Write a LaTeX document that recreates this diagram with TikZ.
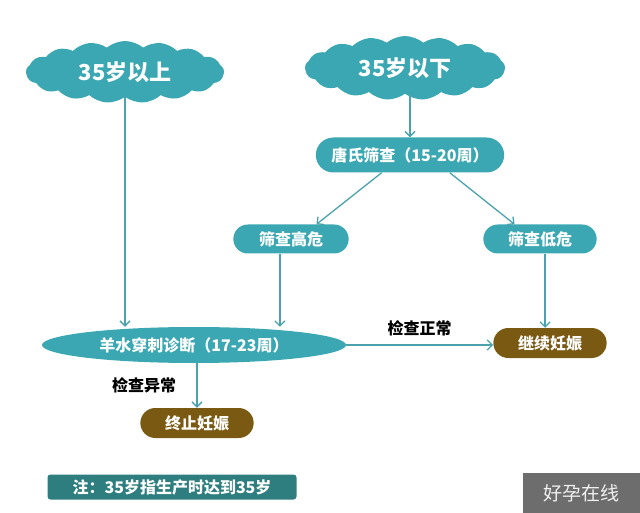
\documentclass[tikz,border=0pt]{standalone}
\usepackage{fontspec}
\setmainfont{Noto Sans CJK SC}
\usetikzlibrary{positioning,arrows.meta,shapes.symbols,shapes.misc,shapes.geometric}

\definecolor{cyanfill}{HTML}{3BA7B2}
\definecolor{linecol}{HTML}{4BA2AD}
\definecolor{brownfill}{HTML}{7A5A12}
\definecolor{notefill}{HTML}{2E7E80}
\definecolor{markfill}{HTML}{6D6D6D}

\begin{document}
\begin{tikzpicture}[
  x=1pt,y=-1pt,
  agecloud/.style={cloud,cloud puffs=17,cloud puff arc=80,cloud ignores aspect,fill=cyanfill,text=white,
    minimum width=198pt,minimum height=62pt,inner sep=0pt,font=\bfseries\fontsize{22}{22}\selectfont},
  oval/.style={ellipse,fill=cyanfill,text=white,inner xsep=-40pt,inner ysep=0pt,minimum height=36pt,
    font=\bfseries\fontsize{16}{16}\selectfont},
  pill/.style={rounded rectangle,fill=cyanfill,text=white,minimum height=29pt,
    font=\bfseries\fontsize{16}{16}\selectfont},
  endbox/.style={pill,fill=brownfill,minimum width=120pt,minimum height=30pt},
  lbl/.style={text=black,font=\bfseries\fontsize{16}{16}\selectfont},
  arr/.style={-{Straight Barb[length=5pt,width=10pt]},linecol,line width=1.3pt}
]
\useasboundingbox (0,0) rectangle (640,513);

\node[agecloud] (above35) at (125,72) {35岁以上};
\node[agecloud,minimum width=200pt,minimum height=64pt] (below35) at (405,68) {35岁以下};
\node[pill,minimum width=195pt,minimum height=35pt] (tang) at (410,155) {唐氏筛查（15-20周）};

\node[pill,minimum width=122pt] (highrisk) at (291,239) {筛查高危};
\node[pill,minimum width=120pt] (lowrisk) at (540,239) {筛查低危};

\node[oval,minimum width=304pt] (amnio) at (194,345) {羊水穿刺诊断（17-23周）};
\node[endbox] (cont) at (550,343) {继续妊娠};
\node[endbox] (stop) at (197,423) {终止妊娠};

% note and mark at the bottom
\node[fill=notefill,rounded corners=3pt,text=white,minimum width=249pt,minimum height=25pt,
  font=\bfseries\fontsize{16}{16}\selectfont] (note) at (172,487) {注：35岁指生产时达到35岁};
\node[fill=markfill,text=white!88!gray,minimum width=117pt,minimum height=40pt,
  font=\fontsize{19}{19}\selectfont] (mark) at (581.5,493) {好孕在线};

\draw[arr] (above35.south) -- (above35.south |- amnio.north);
\draw[arr] (tang.north |- below35.south) -- (tang.north);
\draw[arr] (tang.-148) -- (highrisk.30);
\draw[arr] (tang.-24) -- (lowrisk.150);
\draw[arr] (highrisk.-127) -- (highrisk.-127 |- amnio.north);
\draw[arr] (lowrisk.-71) -- (lowrisk.-71 |- cont.north);
\draw[arr] (amnio.east) -- (amnio.east -| cont.west) node[lbl,midway,above=5pt] {检查正常};
\draw[arr] (stop.north |- amnio.south) -- node[lbl,left=17pt] {检查异常} (stop.north);
\end{tikzpicture}
\end{document}
